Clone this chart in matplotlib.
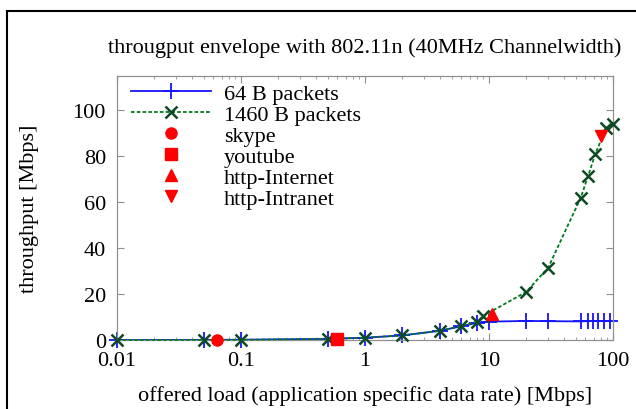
import matplotlib.pyplot as plt
from matplotlib.patches import Rectangle
from matplotlib.ticker import FixedLocator, LogLocator, NullFormatter

plt.rcParams["font.family"] = ["Liberation Serif", "DejaVu Serif"]

# offered load [Mbps] and measured throughput [Mbps]
load_64 = [0.01, 0.05, 0.1, 0.5, 1, 2, 4, 6, 8, 10, 20, 30, 55, 63, 69, 75, 84, 95]
tput_64 = [0.01, 0.05, 0.1, 0.5, 1, 2, 4, 6, 7.5, 8.0, 8.3, 8.2, 8.1, 8.2, 8.3, 8.3, 8.3, 8.2]

load_1460 = [0.01, 0.05, 0.1, 0.5, 1, 2, 4, 6, 8, 9, 20, 30, 55, 63, 72, 88, 100]
tput_1460 = [0.01, 0.05, 0.1, 0.5, 1, 2, 4, 6, 8, 10.5, 21, 31.5, 62, 71.5, 81, 92.5, 94]

apps = ["skype", "youtube", "http-Internet", "http-Intranet"]
app_load = [0.064, 0.6, 10.5, 80]
app_tput = [0.06, 0.6, 11.5, 89]
app_marker = ["o", "s", "^", "v"]

fig = plt.figure(figsize=(6.36, 4.10), dpi=100)
fig.patches.append(Rectangle((7 / 636, -0.1), 1.2, (410 - 12) / 410 + 0.1,
                             transform=fig.transFigure, fill=False,
                             edgecolor="black", linewidth=1.5))
ax = fig.add_axes([117 / 636, 69 / 410, 496 / 636, 264 / 410])

ax.plot(load_64, tput_64, color="#1414ff", linewidth=1.3, marker="+",
        markersize=11, markeredgewidth=1.3, label="64 B packets", zorder=2,
        clip_on=False)
ax.plot(load_1460, tput_1460, color="#007a1e", linewidth=1.3, linestyle=(0, (2, 1.2)),
        marker="x", markersize=9, markeredgewidth=1.8, markeredgecolor="#0f4a24",
        label="1460 B packets", zorder=3, clip_on=False)
for name, x, y, m in zip(apps, app_load, app_tput, app_marker):
    ax.plot([x], [y], linestyle="none", marker=m, color="#ff0000",
            markersize=8, label=name, zorder=4, clip_on=False)

ax.set_xscale("log")
ax.set_xlim(0.01, 100)
ax.set_ylim(0, 115)
ax.xaxis.set_major_locator(FixedLocator([0.01, 0.1, 1, 10, 100]))
ax.set_xticklabels(["0.01", "0.1", "1", "10", "100"])
ax.xaxis.set_minor_locator(LogLocator(base=10, subs=range(2, 10)))
ax.xaxis.set_minor_formatter(NullFormatter())
ax.set_yticks([0, 20, 40, 60, 80, 100])

for s in ax.spines.values():
    s.set_color("#909090")
    s.set_linewidth(0.9)
ax.tick_params(which="both", direction="in", top=True, right=True,
               color="#909090", labelsize=16, pad=8)
ax.tick_params(which="major", length=5)
ax.tick_params(which="minor", length=2.5)

ax.set_title("througput envelope with 802.11n (40MHz Channelwidth)",
             fontsize=16, pad=17)
ax.set_xlabel("offered load (application specific data rate) [Mbps]",
              fontsize=16, labelpad=11)
ax.set_ylabel("throughput [Mbps]", fontsize=16, labelpad=24)

ax.legend(loc="upper left", frameon=False, fontsize=16, handlelength=3.6,
          handletextpad=0.6, labelspacing=0.02, borderaxespad=0.0,
          bbox_to_anchor=(0.01, 1.005))

fig.savefig("out.png", dpi=100)
